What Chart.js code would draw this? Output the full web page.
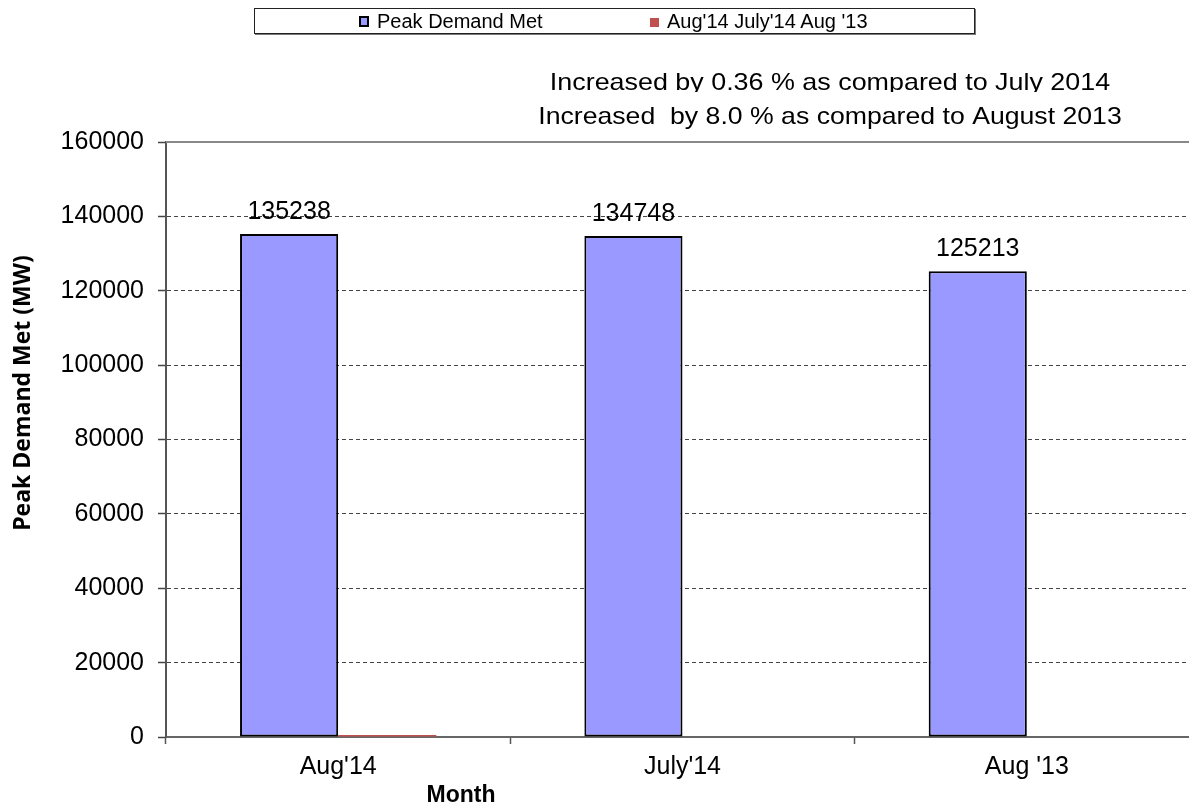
<!DOCTYPE html>
<html>
<head>
<meta charset="utf-8">
<script src="https://cdn.jsdelivr.net/npm/chart.js@4.4.1/dist/chart.umd.min.js"></script>
<style>
  html, body { margin: 0; padding: 0; background: #fff; overflow: hidden; }
  #wrap { position: relative; width: 1189px; height: 805px; overflow: hidden; }
  #chartBox { position: absolute; left: 0; top: 0; width: 1200px; height: 805px; }
  #legend {
    position: absolute; left: 254px; top: 8px; width: 719px; height: 24px;
    border: 1px solid #222; box-shadow: 1px 1px 0 #777;
    font: 20px "Liberation Sans", Arial, sans-serif; color: #000;
  }
  .item { position: absolute; top: 1px; white-space: nowrap; line-height: 22px; }
  .sw { display: inline-block; width: 9px; height: 9px; margin-right: 8px; vertical-align: 1px; }
</style>
</head>
<body>
<div id="wrap">
  <div id="chartBox"><canvas id="peakChart"></canvas></div>
  <div id="legend"></div>
</div>
<script>
// --- chart data ---
const months = ["Aug'14", "July'14", "Aug '13"];
const peakDemandMet = [135238, 134748, 125213];
const otherSeries = [0, null, null];
const seriesNames = ["Peak Demand Met", "Aug'14 July'14 Aug '13"];
const yTicks = [0, 20000, 40000, 60000, 80000, 100000, 120000, 140000, 160000];
const notes = [
  "Increased by 0.36 % as compared to July 2014",
  "Increased  by 8.0 % as compared to August 2013",
];
const yTitle = "Peak Demand Met (MW)";
const xTitle = "Month";

const BLUE = "#9999FF";
const RED = "#C0504D";

// legend box (html, the original has a framed legend)
const legend = document.getElementById("legend");
legend.innerHTML =
  '<span class="item" style="left:104px"><span class="sw" style="background:' + BLUE +
  ';border:2px solid #000;width:6px;height:7px"></span>' + seriesNames[0] + "</span>" +
  '<span class="item" style="left:395px"><span class="sw" style="background:' + RED +
  '"></span>' + seriesNames[1] + "</span>";

// extra text: notes, axis titles, value labels, top frame line
const extras = {
  id: "extras",
  afterDraw(chart) {
    const { ctx, chartArea } = chart;
    ctx.save();

    // top frame
    ctx.strokeStyle = "#888";
    ctx.lineWidth = 2;
    ctx.beginPath();
    ctx.moveTo(chartArea.left, chartArea.top);
    ctx.lineTo(chartArea.right, chartArea.top);
    ctx.stroke();

    // value labels
    ctx.fillStyle = "#000";
    ctx.font = '25px "Liberation Sans", Arial, sans-serif';
    ctx.textAlign = "center";
    ctx.textBaseline = "alphabetic";
    chart.getDatasetMeta(0).data.forEach((bar, i) => {
      ctx.fillText(String(peakDemandMet[i]), bar.x, bar.y - 15);
    });

    // notes, a bit wider than tall like the original
    // (first line gets cut by the second one, as in the original)
    ctx.font = '24px "Liberation Sans", Arial, sans-serif';
    ctx.save();
    ctx.beginPath();
    ctx.rect(0, 0, chart.width, 92);
    ctx.clip();
    ctx.translate(830, 90);
    ctx.scale(1.12, 1);
    ctx.fillText(notes[0], 0, 0);
    ctx.restore();
    ctx.save();
    ctx.translate(830, 124);
    ctx.scale(1.11, 1);
    ctx.fillText(notes[1], 0, 0);
    ctx.restore();

    // x title
    ctx.font = 'bold 23px "Liberation Sans", Arial, sans-serif';
    ctx.fillText(xTitle, 461, 802);

    // y title
    ctx.translate(23, 393);
    ctx.rotate(-Math.PI / 2);
    ctx.font = 'bold 23px "Open Sans", sans-serif';
    ctx.textBaseline = "middle";
    ctx.fillText(yTitle, 0, 0);
    ctx.restore();
  },
};

const ctx = document.getElementById("peakChart").getContext("2d");
const peakChart = new Chart(ctx, {
  type: "bar",
  data: {
    labels: months,
    datasets: [
      {
        label: seriesNames[0],
        data: peakDemandMet,
        backgroundColor: BLUE,
        borderColor: "#000",
        borderWidth: 2,
        borderSkipped: false,
      },
      {
        label: seriesNames[1],
        data: otherSeries,
        backgroundColor: RED,
        borderWidth: 0,
        minBarLength: 2,
      },
    ],
  },
  options: {
    responsive: true,
    maintainAspectRatio: false,
    animation: false,
    layout: { padding: { top: 142, right: 1, left: 0, bottom: 0 } },
    datasets: { bar: { barPercentage: 1.0, categoryPercentage: 0.57 } },
    plugins: { legend: { display: false }, tooltip: { enabled: false } },
    scales: {
      x: {
        afterFit: (s) => { s.height = 68; },
        grid: {
          offset: true,
          drawOnChartArea: false,
          tickLength: 7,
          tickColor: "#555",
          tickWidth: 1.5,
        },
        border: { color: "#666", width: 2 },
        ticks: {
          color: "#000",
          padding: 8,
          font: { family: "Liberation Sans", size: 25 },
        },
      },
      y: {
        min: 0,
        max: 160000,
        afterFit: (s) => { s.width = 166; },
        afterBuildTicks: (s) => { s.ticks = yTicks.map((v) => ({ value: v })); },
        grid: {
          color: (c) => (c.tick && c.tick.value === 160000 ? "rgba(0,0,0,0)" : "#444"),
          lineWidth: 1,
          tickLength: 8,
          tickColor: "#444",
          tickWidth: 1.5,
        },
        border: { color: "#555", width: 2, dash: [4, 3] },
        ticks: {
          color: "#000",
          padding: 14,
          callback: (v) => String(v),
          font: { family: "Liberation Sans", size: 25 },
        },
      },
    },
  },
  plugins: [extras],
});
</script>
</body>
</html>
